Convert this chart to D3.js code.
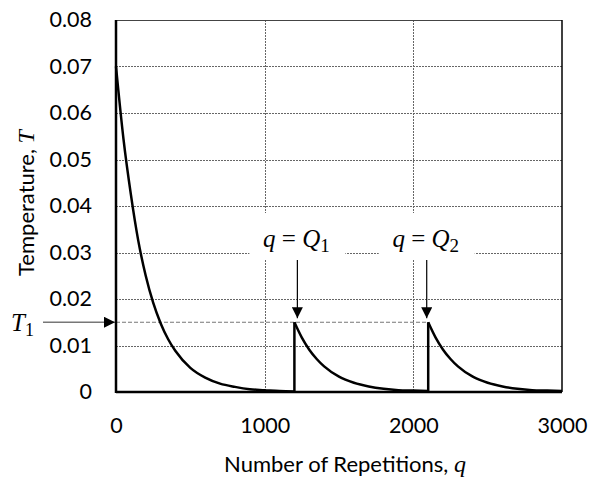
<!DOCTYPE html>
<html>
<head>
<meta charset="utf-8">
<script src="https://cdn.jsdelivr.net/npm/d3@7"></script>
<style>
  body { margin: 0; background: #fff; }
  svg { display: block; }
  .tick text { font-family: Lato, "Open Sans", sans-serif; font-size: 21.5px; fill: #000; }
</style>
</head>
<body>
<div id="chart"></div>
<script>
// values
var seg1Q = [0, 50, 100, 150, 200, 250, 300, 350, 400, 500, 600, 700, 800, 900, 1000, 1100, 1200];
var seg1T = [0.070, 0.0545, 0.0425, 0.0325, 0.025, 0.0192, 0.0148, 0.0114, 0.0088, 0.0052, 0.0031, 0.0018, 0.0011, 0.0006, 0.0004, 0.0002, 0.0001];
var seg2Q = [1200, 1250, 1300, 1350, 1400, 1500, 1600, 1700, 1800, 1900, 2000, 2100];
var seg2T = [0.015, 0.0117, 0.0091, 0.0071, 0.0055, 0.0033, 0.0020, 0.0012, 0.0007, 0.0004, 0.0003, 0.0002];
var seg3Q = [2100, 2150, 2200, 2250, 2300, 2400, 2500, 2600, 2700, 2800, 2900, 3000];
var seg3T = [0.015, 0.0117, 0.0091, 0.0071, 0.0055, 0.0033, 0.0020, 0.0012, 0.0007, 0.0004, 0.0003, 0.0002];

var jumpQ   = [1200, 2100];     // q = Q1, q = Q2
var arrowQ  = [1220, 2090];     // where the pointer arrows sit
var qSubs   = ['1', '2'];
var T1      = 0.015;

var xTicks = [0, 1000, 2000, 3000];
var yTicks = [0, 0.01, 0.02, 0.03, 0.04, 0.05, 0.06, 0.07, 0.08];
var xGrid  = [1000, 2000];
var yGrid  = [0.01, 0.02, 0.03, 0.04, 0.05, 0.06, 0.07];

var W = 596, H = 480,
    m = { left: 116, top: 20, right: 34, bottom: 88 },
    w = W - m.left - m.right,
    h = H - m.top - m.bottom;

var svg = d3.select('#chart').append('svg')
  .attr('width', W)
  .attr('height', H);

var defs = svg.append('defs');
defs.append('marker')
  .attr('id', 'head')
  .attr('viewBox', '0 0 10 10')
  .attr('refX', 10).attr('refY', 5)
  .attr('markerUnits', 'userSpaceOnUse')
  .attr('markerWidth', 11).attr('markerHeight', 11)
  .attr('orient', 'auto')
  .append('path')
  .attr('d', 'M0,0 L10,5 L0,10 Z')
  .attr('fill', '#000');

var x = d3.scaleLinear().domain([0, 3000]).range([0, w]);
var y = d3.scaleLinear().domain([0, 0.08]).range([h, 0]);

var g = svg.append('g')
  .attr('transform', 'translate(' + m.left + ',' + m.top + ')');

/* grid */
var grid = g.append('g')
  .attr('stroke', '#666')
  .attr('stroke-width', 1)
  .attr('stroke-dasharray', '2,1');

grid.selectAll('.hg').data(yGrid).enter().append('line')
  .attr('x1', 0).attr('x2', w)
  .attr('y1', function (d) { return Math.round(y(d)) + 0.5; })
  .attr('y2', function (d) { return Math.round(y(d)) + 0.5; });

grid.selectAll('.vg').data(xGrid).enter().append('line')
  .attr('y1', 0).attr('y2', h)
  .attr('x1', function (d) { return Math.round(x(d)) + 0.5; })
  .attr('x2', function (d) { return Math.round(x(d)) + 0.5; });

/* T1 reference line */
g.append('line')
  .attr('x1', x(0)).attr('x2', x(jumpQ[1]))
  .attr('y1', y(T1)).attr('y2', y(T1))
  .attr('stroke', '#777')
  .attr('stroke-width', 1)
  .attr('stroke-dasharray', '4,2');

/* frame */
g.append('line')
  .attr('x1', 0).attr('x2', w).attr('y1', 0.5).attr('y2', 0.5)
  .attr('stroke', '#444').attr('stroke-width', 1);
g.append('line')
  .attr('x1', w).attr('x2', w).attr('y1', 0).attr('y2', h)
  .attr('stroke', '#000').attr('stroke-width', 1.5);

/* white boxes behind the Q labels, then the labels */
arrowQ.forEach(function (q, i) {
  var cx = x(q);
  g.append('rect')
    .attr('x', cx - 48).attr('y', 193)
    .attr('width', 96).attr('height', 47)
    .attr('fill', '#fff');

  var t = g.append('text')
    .attr('x', cx - 1).attr('y', 227)
    .attr('text-anchor', 'middle')
    .style('font-family', '"Liberation Serif", "Times New Roman", serif')
    .style('font-size', '25px');
  t.append('tspan').style('font-style', 'italic').text('q');
  t.append('tspan').text(' = ');
  t.append('tspan').style('font-style', 'italic').text('Q');
  t.append('tspan').attr('dy', 5).style('font-size', '19px').text(qSubs[i]);

  g.append('line')
    .attr('x1', cx).attr('x2', cx)
    .attr('y1', 240).attr('y2', y(T1) - 4)
    .attr('stroke', '#000').attr('stroke-width', 1.2)
    .attr('marker-end', 'url(#head)');
});

/* axes */
var xAxis = g.append('g')
  .attr('transform', 'translate(0,' + h + ')')
  .call(d3.axisBottom(x).tickValues(xTicks).tickSize(0).tickPadding(26).tickFormat(d3.format('d')));
xAxis.select('.domain').remove();

var yAxis = g.append('g')
  .call(d3.axisLeft(y).tickValues(yTicks).tickSize(0).tickPadding(24)
    .tickFormat(function (d) { return d === 0 ? '0' : d3.format('.2f')(d); }));
yAxis.select('.domain').remove();

/* curves */
var line = d3.line()
  .x(function (d) { return x(d[0]); })
  .y(function (d) { return y(d[1]); })
  .curve(d3.curveMonotoneX);

function pairs(qs, ts) {
  return qs.map(function (q, i) { return [q, ts[i]]; });
}

var curves = g.append('g')
  .attr('fill', 'none')
  .attr('stroke', '#000')
  .attr('stroke-width', 2.5);

[pairs(seg1Q, seg1T), pairs(seg2Q, seg2T), pairs(seg3Q, seg3T)].forEach(function (d) {
  curves.append('path').attr('d', line(d));
});

jumpQ.forEach(function (q) {
  curves.append('path')
    .attr('d', d3.line()([[x(q), y(0)], [x(q), y(T1)]]));
});

g.append('line')
  .attr('x1', 0).attr('x2', 0).attr('y1', 0).attr('y2', h + 1)
  .attr('stroke', '#000').attr('stroke-width', 2.5);
g.append('line')
  .attr('x1', 0).attr('x2', w).attr('y1', h).attr('y2', h)
  .attr('stroke', '#000').attr('stroke-width', 2.5);

/* T1 pointer */
svg.append('line')
  .attr('x1', 43).attr('x2', m.left - 1)
  .attr('y1', m.top + y(T1)).attr('y2', m.top + y(T1))
  .attr('stroke', '#777').attr('stroke-width', 1.5)
  .attr('marker-end', 'url(#head)');

var t1 = svg.append('text')
  .attr('x', 11).attr('y', m.top + y(T1) + 9)
  .style('font-family', '"Liberation Serif", "Times New Roman", serif')
  .style('font-size', '25px');
t1.append('tspan').style('font-style', 'italic').text('T');
t1.append('tspan').attr('dy', 5).style('font-size', '18px').text('1');

/* axis titles */
var xt = svg.append('text')
  .attr('x', m.left + w / 2 + 6).attr('y', 472)
  .attr('text-anchor', 'middle')
  .style('font-family', 'Lato, "Open Sans", sans-serif')
  .style('font-size', '22px');
xt.append('tspan').text('Number of Repetitions, ');
xt.append('tspan')
  .style('font-family', '"Liberation Serif", serif')
  .style('font-style', 'italic')
  .style('font-size', '24px')
  .text('q');

var yt = svg.append('text')
  .attr('transform', 'translate(34,' + (m.top + h / 2 - 3) + ') rotate(-90)')
  .attr('text-anchor', 'middle')
  .style('font-family', 'Lato, "Open Sans", sans-serif')
  .style('font-size', '22px');
yt.append('tspan').text('Temperature, ');
yt.append('tspan')
  .style('font-family', '"Liberation Serif", serif')
  .style('font-style', 'italic')
  .style('font-size', '24px')
  .text('T');
</script>
</body>
</html>
